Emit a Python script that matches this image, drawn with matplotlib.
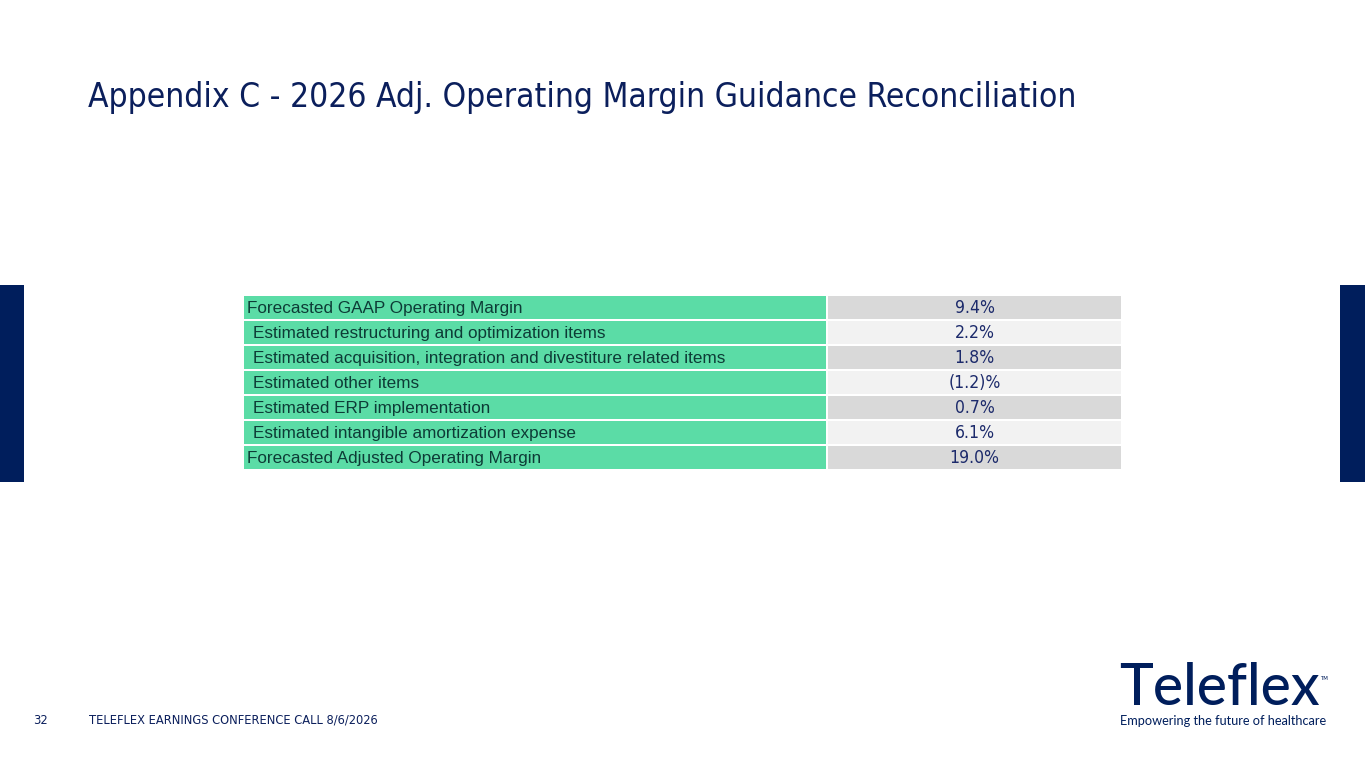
import matplotlib
matplotlib.use("Agg")
import matplotlib.pyplot as plt
from matplotlib.patches import Rectangle

# ---- data ----
row_labels = [
    "Forecasted GAAP Operating Margin",
    "Estimated restructuring and optimization items",
    "Estimated acquisition, integration and divestiture related items",
    "Estimated other items",
    "Estimated ERP implementation",
    "Estimated intangible amortization expense",
    "Forecasted Adjusted Operating Margin",
]
row_values = ["9.4%", "2.2%", "1.8%", "(1.2)%", "0.7%", "6.1%", "19.0%"]
row_indent = [False, True, True, True, True, True, False]

title = "Appendix C - 2026 Adj. Operating Margin Guidance Reconciliation"
footer_page = "32"
footer_text = "TELEFLEX EARNINGS CONFERENCE CALL 8/6/2026"
logo_name = "Teleflex"
logo_tag = "Empowering the future of healthcare"

# ---- style ----
NAVY = "#0b1f5c"
BAR_NAVY = "#001e5c"
GREEN = "#5bdca6"
GRAY_D = "#d9d9d9"
GRAY_L = "#f2f2f2"
LABEL_COLOR = "#0d3b36"
VAL_COLOR = "#1c2a6b"

W, H = 1365, 768
fig = plt.figure(figsize=(W / 100, H / 100), dpi=100)
ax = fig.add_axes([0, 0, 1, 1])
ax.set_xlim(0, W)
ax.set_ylim(H, 0)
ax.axis("off")

# side bars
ax.add_patch(Rectangle((0, 285), 24, 197, color=BAR_NAVY, lw=0))
ax.add_patch(Rectangle((1340, 285), 25, 197, color=BAR_NAVY, lw=0))

# title
ax.text(88, 98, title, fontsize=24, color=NAVY, family="DejaVu Sans",
        fontstretch="condensed", va="center", ha="left")

# table
x0, x_mid, x1 = 244, 826, 1121
y_top, row_h, gap = 296, 25, 1.8
for i, (lab, val, ind) in enumerate(zip(row_labels, row_values, row_indent)):
    y = y_top + i * row_h
    ax.add_patch(Rectangle((x0, y), x_mid - x0, row_h - gap, color=GREEN, lw=0))
    ax.add_patch(Rectangle((x_mid + 2, y), x1 - x_mid - 2, row_h - gap,
                           color=GRAY_D if i % 2 == 0 else GRAY_L, lw=0))
    yc = y + (row_h - gap) / 2
    ax.text(x0 + (9 if ind else 3), yc + 0.5, lab, fontsize=12.3,
            family="Liberation Sans", color=LABEL_COLOR, va="center", ha="left")
    ax.text((x_mid + 2 + x1) / 2, yc + 0.5, val, fontsize=12.6,
            family="DejaVu Sans", fontstretch="condensed", color=VAL_COLOR,
            va="center", ha="center")

# footer
ax.text(33, 720, footer_page, fontsize=9.2, color=NAVY, family="DejaVu Sans",
        fontstretch="condensed", va="center", ha="left")
ax.text(89, 720, footer_text, fontsize=9.2, color=NAVY, family="DejaVu Sans",
        fontstretch="condensed", va="center", ha="left")

# logo
ax.text(1119, 705, logo_name, fontsize=41, color=BAR_NAVY, family="Lato",
        weight="medium", va="baseline", ha="left")
ax.text(1320, 678, "TM", fontsize=4, color=BAR_NAVY, family="DejaVu Sans",
        va="center", ha="left")
ax.text(1120, 721, logo_tag, fontsize=9.2, color=BAR_NAVY, family="Lato",
        va="center", ha="left")

fig.savefig("out.png", dpi=100)
